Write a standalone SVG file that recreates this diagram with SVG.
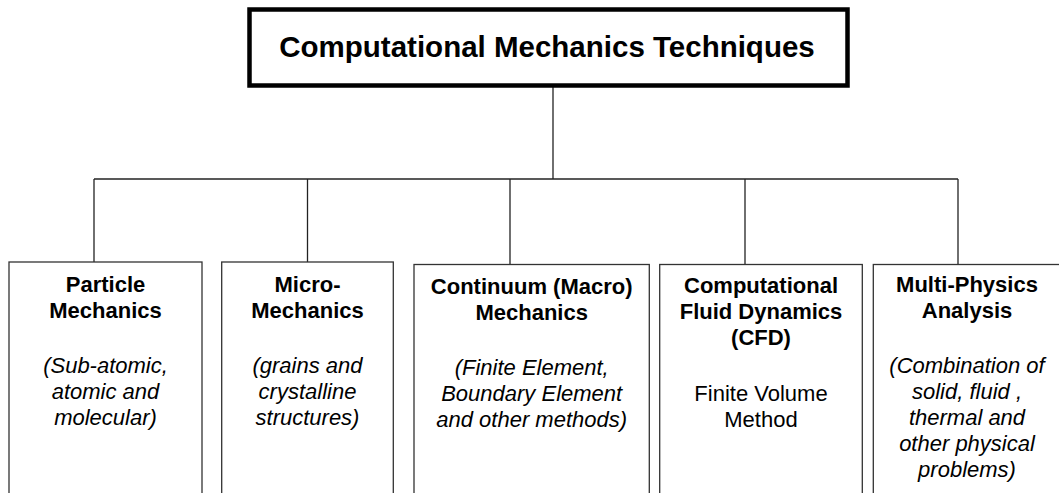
<svg xmlns="http://www.w3.org/2000/svg" width="1059" height="493" viewBox="0 0 1059 493">
  <style>
    .title-box { fill: #ffffff; stroke: #000000; stroke-width: 4.5; }
    .box { fill: #ffffff; stroke: #333333; stroke-width: 1.3; }
    .link { fill: none; stroke: #222222; stroke-width: 1.3; }
    text { font-family: "Liberation Sans", Arial, sans-serif; fill: #000000; text-anchor: middle; }
    .title { font-size: 29.5px; font-weight: bold; }
    .head { font-size: 22px; font-weight: bold; }
    .sub { font-size: 22px; font-style: italic; }
    .plain { font-size: 22px; }
  </style>
  <rect x="0" y="0" width="1059" height="493" fill="#ffffff"/>

  <!-- tree connectors -->
  <g id="connectors">
    <line class="link" x1="553" y1="87" x2="553" y2="179"/>
    <line class="link" x1="94" y1="179" x2="958" y2="179"/>
    <line class="link" x1="94" y1="179" x2="94" y2="263"/>
    <line class="link" x1="307.5" y1="179" x2="307.5" y2="263"/>
    <line class="link" x1="510" y1="179" x2="510" y2="265"/>
    <line class="link" x1="745" y1="179" x2="745" y2="265"/>
    <line class="link" x1="958" y1="179" x2="958" y2="264"/>
  </g>

  <g id="root">
    <rect class="title-box" x="249.5" y="9.5" width="598" height="76"/>
    <text class="title" x="547" y="57">Computational Mechanics Techniques</text>
  </g>

  <g id="particle">
    <rect class="box" x="9" y="262" width="193" height="250"/>
    <text class="head" x="105.5" y="292">Particle</text>
    <text class="head" x="105.5" y="318">Mechanics</text>
    <text class="sub" x="105.5" y="373">(Sub-atomic,</text>
    <text class="sub" x="105.5" y="399">atomic and</text>
    <text class="sub" x="105.5" y="425">molecular)</text>
  </g>

  <g id="micro">
    <rect class="box" x="221.7" y="262" width="171.6" height="250"/>
    <text class="head" x="307.5" y="292">Micro-</text>
    <text class="head" x="307.5" y="318">Mechanics</text>
    <text class="sub" x="307.5" y="373">(grains and</text>
    <text class="sub" x="307.5" y="399">crystalline</text>
    <text class="sub" x="307.5" y="425">structures)</text>
  </g>

  <g id="continuum">
    <rect class="box" x="414" y="264.5" width="235.3" height="250"/>
    <text class="head" x="531.7" y="293.5">Continuum (Macro)</text>
    <text class="head" x="531.7" y="319.5">Mechanics</text>
    <text class="sub" x="531.7" y="375">(Finite Element,</text>
    <text class="sub" x="531.7" y="401">Boundary Element</text>
    <text class="sub" x="531.7" y="427">and other methods)</text>
  </g>

  <g id="cfd">
    <rect class="box" x="659.7" y="264.5" width="202.6" height="250"/>
    <text class="head" x="761" y="292.5">Computational</text>
    <text class="head" x="761" y="318.5">Fluid Dynamics</text>
    <text class="head" x="761" y="344.5">(CFD)</text>
    <text class="plain" x="761" y="401">Finite Volume</text>
    <text class="plain" x="761" y="427">Method</text>
  </g>

  <g id="multiphysics">
    <rect class="box" x="873.3" y="264.5" width="188" height="250"/>
    <text class="head" x="967" y="292">Multi-Physics</text>
    <text class="head" x="967" y="318">Analysis</text>
    <text class="sub" x="967" y="373">(Combination of</text>
    <text class="sub" x="967" y="399">solid, fluid ,</text>
    <text class="sub" x="967" y="425">thermal and</text>
    <text class="sub" x="967" y="451">other physical</text>
    <text class="sub" x="967" y="477">problems)</text>
  </g>
</svg>
